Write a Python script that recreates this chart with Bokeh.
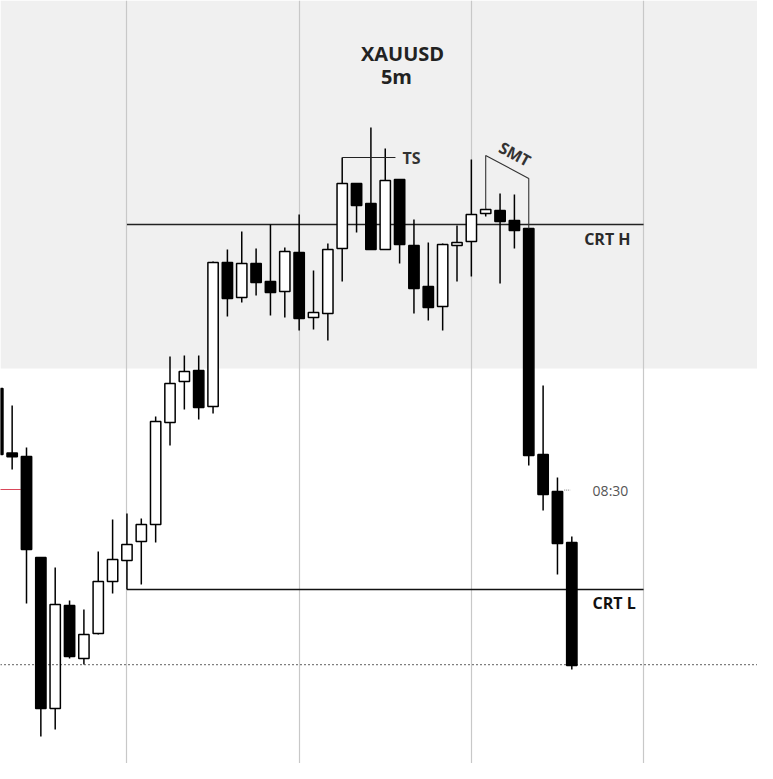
from bokeh.plotting import figure
from bokeh.models import ColumnDataSource, Range1d, FixedTicker, BoxAnnotation, Label, Span
from bokeh.embed import file_html
from bokeh.resources import INLINE

# ---- data (5m candles, index 0 = 05:15) ----
opens = [2336.80, 2333.57, 2333.40, 2328.35, 2320.80, 2325.95, 2323.30, 2324.55, 2327.15, 2328.20,
         2329.15, 2330.00, 2335.10, 2337.15, 2337.70, 2335.90, 2343.10, 2341.35, 2343.05, 2342.15,
         2341.65, 2343.60, 2340.35, 2340.55, 2343.80, 2347.05, 2346.05, 2343.75, 2347.25, 2343.95,
         2341.90, 2340.90, 2343.95, 2344.15, 2345.55, 2345.70, 2345.20, 2344.80, 2333.50, 2331.65,
         2329.10]
highs = [2336.95, 2335.95, 2333.85, 2328.35, 2327.85, 2326.20, 2325.75, 2328.65, 2330.25, 2330.55,
         2330.30, 2335.40, 2338.40, 2338.45, 2338.45, 2343.15, 2343.75, 2344.65, 2343.80, 2345.00,
         2343.85, 2345.50, 2342.70, 2344.05, 2348.35, 2347.05, 2349.85, 2348.80, 2347.25, 2345.25,
         2344.10, 2344.05, 2344.95, 2348.25, 2345.80, 2346.55, 2346.50, 2344.80, 2336.95, 2332.35,
         2329.40]
lows = [2332.50, 2332.75, 2326.05, 2319.40, 2319.75, 2323.30, 2323.00, 2324.50, 2326.55, 2326.75,
        2327.00, 2329.10, 2333.95, 2335.75, 2335.25, 2335.55, 2340.40, 2341.10, 2341.45, 2340.45,
        2340.35, 2339.70, 2339.75, 2339.20, 2342.15, 2344.60, 2343.75, 2343.75, 2343.05, 2340.55,
        2340.20, 2339.70, 2342.15, 2342.40, 2345.40, 2342.05, 2343.80, 2332.95, 2330.70, 2327.50,
        2322.75]
closes = [2333.50, 2333.39, 2328.75, 2320.80, 2326.00, 2323.40, 2324.50, 2327.15, 2328.25, 2329.00,
          2330.00, 2335.15, 2337.05, 2337.65, 2335.85, 2343.10, 2341.30, 2343.05, 2342.10, 2341.60,
          2343.65, 2340.30, 2340.60, 2343.75, 2347.05, 2345.95, 2343.75, 2347.20, 2344.00, 2341.80,
          2340.85, 2344.00, 2344.10, 2345.50, 2345.75, 2345.15, 2344.70, 2333.45, 2331.50, 2329.05,
          2322.95]

hour_ticks = [9, 21, 33, 45]          # 06:00, 07:00, 08:00, 09:00
session_low_edge = 2337.80            # shaded session lower bound
crt_high = 2345.00
crt_low = 2326.75
crt_start, crt_end = 9, 45
dotted_level = 2322.99
red_level = 2331.75
ts_candle, ts_end = 24, 27.71
smt_a, smt_b = 34, 37
smt_a_top, smt_b_top = 2348.45, 2347.30

idx = list(range(len(opens)))
fills = ["white" if c >= o else "black" for o, c in zip(opens, closes)]
tops = [max(o, c) for o, c in zip(opens, closes)]
bots = [min(o, c) for o, c in zip(opens, closes)]

src = ColumnDataSource(dict(x=idx, o=opens, h=highs, l=lows, c=closes,
                            top=tops, bot=bots, fill=fills))

p = figure(width=757, height=763, x_range=Range1d(0.188, 52.94),
           y_range=Range1d(2318.05, 2356.2), output_backend="svg",
           toolbar_location=None, min_border=0, outline_line_color=None,
           background_fill_color="white", border_fill_color="white")
p.xaxis.visible = False
p.yaxis.visible = False
p.ygrid.visible = False
p.xgrid.ticker = FixedTicker(ticks=hour_ticks)
p.xgrid.grid_line_color = "#c8c8c8"
p.xgrid.grid_line_width = 1.2

shade = BoxAnnotation(bottom=session_low_edge, fill_color="#f0f0f0", fill_alpha=1.0,
                      line_alpha=0, level="image")
p.add_layout(shade)

# reference levels
p.line([-0.5, 1.6], [red_level, red_level], line_color="#d9475a", line_width=1.2)
p.add_layout(Span(location=dotted_level, dimension="width", line_color="black",
                  line_width=1.2, line_dash="1 3"))
p.line([crt_start, crt_end], [crt_high, crt_high], line_color="#222222", line_width=1.3)
p.line([crt_start, crt_end], [crt_low, crt_low], line_color="#111111", line_width=1.3)

# candles
p.segment(x0="x", y0="h", x1="x", y1="l", source=src, line_color="black", line_width=1.5)
p.vbar(x="x", width=0.72, top="top", bottom="bot", source=src, fill_color="fill",
       line_color="black", line_width=1.5)

# TS annotation
p.line([ts_candle, ts_end], [highs[ts_candle], highs[ts_candle]], line_color="#222222", line_width=1.1)
# SMT annotation
p.line([smt_a, smt_a, smt_b, smt_b],
       [highs[smt_a], smt_a_top, smt_b_top, highs[smt_b]],
       line_color="#333333", line_width=1.1)
# 08:30 tick
p.line([39.47, 39.9], [2331.72, 2331.72], line_color="#777777", line_width=1, line_dash="1 1")

def lab(x, y, text, size, color, style="bold", align="left", angle=0.0):
    p.add_layout(Label(x=x, y=y, text=text, text_font="Open Sans", text_font_size=size,
                       text_font_style=style, text_color=color, text_align=align,
                       text_baseline="middle", angle=angle))

lab(28.2, 2353.55, "XAUUSD", "20px", "#222222", align="center")
lab(27.78, 2352.4, "5m", "20px", "#222222", align="center")
lab(28.2, 2348.35, "TS", "16px", "#333333")
lab(36.03, 2348.52, "SMT", "16px", "#333333", align="center", angle=-0.49)
lab(40.86, 2344.3, "CRT H", "16px", "#2a2a2a")
lab(41.45, 2331.72, "08:30", "14px", "#555555", style="normal")
lab(41.45, 2326.07, "CRT L", "16px", "#111111")

open("out.html", "w").write(file_html(p, INLINE))
